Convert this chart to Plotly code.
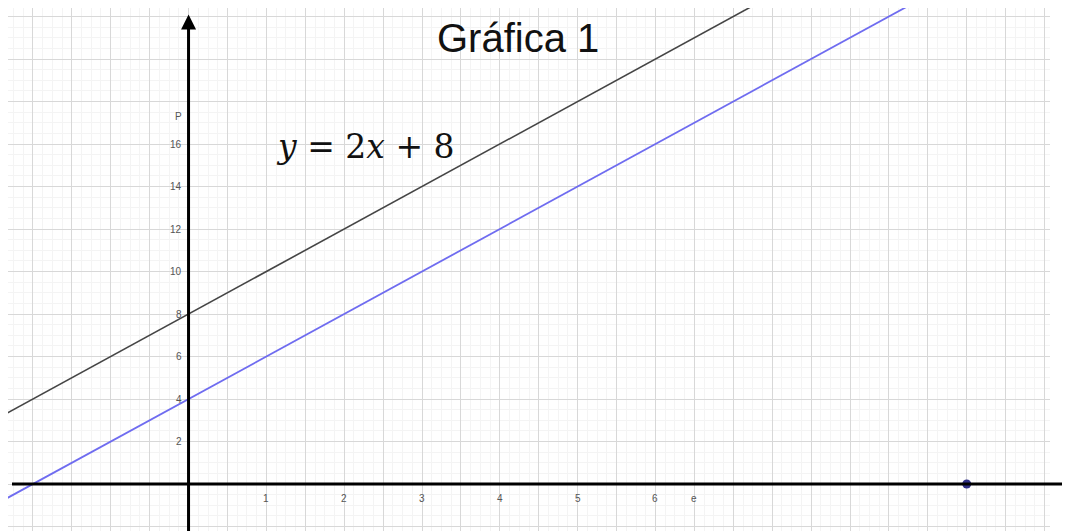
import plotly.graph_objects as go

# ---- data ----
line1_x = [-2.5, 7.5]          # y = 2x + 8 (black)
line1_y = [3.0, 23.0]
line2_x = [-2.5, 9.5]          # y = 2x + 4 (blue)
line2_y = [-1.0, 23.0]
point_x = [10]
point_y = [0]
xtick_vals = [1, 2, 3, 4, 5, 6, 6.5]
xtick_text = ["1", "2", "3", "4", "5", "6", "e"]
ytick_vals = [2, 4, 6, 8, 10, 12, 14, 16, 17.3]
ytick_text = ["2", "4", "6", "8", "10", "12", "14", "16", "P"]
title_text = "Gráfica 1"
equation_text = "<i>y</i> = 2<i>x</i> + 8"

# page body has an 8px default margin
OFF = 8
W, H = 1062, 523
ml, mr, mt, mb = 0, 20, 0, 0
pw, ph = W - ml - mr, H - mt - mb

fig = go.Figure()

fig.add_trace(go.Scatter(x=line1_x, y=line1_y, mode="lines",
                         line=dict(color="#454545", width=1.6),
                         hoverinfo="skip", showlegend=False))
fig.add_trace(go.Scatter(x=line2_x, y=line2_y, mode="lines",
                         line=dict(color="#6f6cf0", width=1.8),
                         hoverinfo="skip", showlegend=False))
fig.add_trace(go.Scatter(x=point_x, y=point_y, mode="markers",
                         marker=dict(color="#2f2f86", size=9),
                         hoverinfo="skip", showlegend=False, cliponaxis=False))

annotations = []
for v, t in zip(xtick_vals, xtick_text):
    annotations.append(dict(x=v, y=-0.7, xref="x", yref="y", text=t,
                            showarrow=False, font=dict(size=10, color="#555555",
                                                       family="Liberation Sans")))
for v, t in zip(ytick_vals, ytick_text):
    annotations.append(dict(x=-0.06, y=v, xref="x", yref="y", text=t,
                            showarrow=False, xanchor="right",
                            font=dict(size=10, color="#555555",
                                      family="Liberation Sans")))
# y axis with arrow
annotations.append(dict(x=0, y=22.1, ax=0, ay=-2.4, xref="x", yref="y",
                        axref="x", ayref="y", text="", showarrow=True,
                        arrowhead=2, arrowsize=1.0, arrowwidth=3,
                        arrowcolor="#000000"))
# title
annotations.append(dict(x=(518 - OFF - ml) / pw, y=1 - (38 - OFF - mt) / ph,
                        xref="paper", yref="paper", text=title_text,
                        xanchor="center", yanchor="middle",
                        showarrow=False, font=dict(size=40, color="#111111",
                                                   family="Liberation Sans")))
# equation
annotations.append(dict(x=2.27, y=15.9, xref="x", yref="y", text=equation_text,
                        xanchor="center", yanchor="middle",
                        showarrow=False, font=dict(size=33, color="#111111",
                                                   family="DejaVu Serif")))

shapes = [
    dict(type="rect", xref="x", yref="y", x0=10.0, x1=10.45, y0=0.25, y1=1.3,
         fillcolor="white", line=dict(width=0), layer="below"),
    dict(type="line", xref="paper", yref="y", x0=(12 - OFF - ml) / pw,
         x1=(1072 - OFF - ml) / pw, y0=0, y1=0,
         line=dict(color="#000000", width=3)),
]

fig.update_layout(
    width=W, height=H,
    margin=dict(l=ml, r=mr, t=mt, b=mb),
    paper_bgcolor="white", plot_bgcolor="white",
    showlegend=False,
    annotations=annotations,
    shapes=shapes,
    xaxis=dict(range=[-2.32, 11.07], showticklabels=False, ticks="",
               zeroline=False, showline=False,
               showgrid=True, gridcolor="#d8d8d8", gridwidth=1.4, dtick=0.5, tick0=0,
               minor=dict(showgrid=True, gridcolor="#f4f4f4", gridwidth=1, dtick=0.125)),
    yaxis=dict(range=[-2.21, 22.4], showticklabels=False, ticks="",
               zeroline=False, showline=False,
               showgrid=True, gridcolor="#d8d8d8", gridwidth=1.4, dtick=2, tick0=0,
               minor=dict(showgrid=True, gridcolor="#f4f4f4", gridwidth=1, dtick=0.5)),
)

fig.write_html("out.html")
